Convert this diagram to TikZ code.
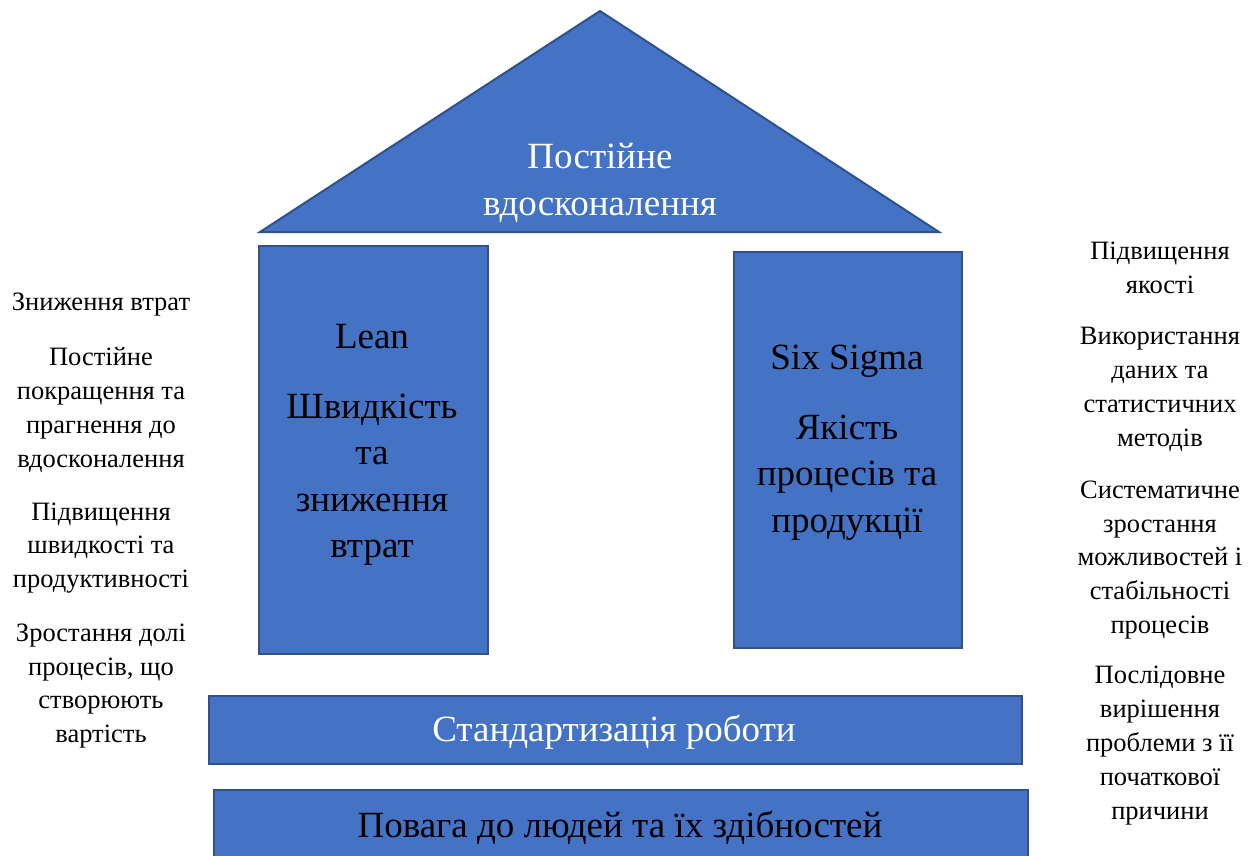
\documentclass[tikz,border=0pt]{standalone}
\usepackage{fontspec}
\setmainfont{Liberation Serif}
\begin{document}
\begin{tikzpicture}[x=1pt,y=-1pt,
  blockfill/.style={fill=houseblue, draw=houseedge, line width=2pt},
  pillar/.style={blockfill, anchor=north west, inner sep=0pt},
  bigtext/.style={align=center, font=\fontsize{37}{46.5}\selectfont},
  sidetext/.style={align=center, font=\fontsize{26.5}{33.8}\selectfont},
]
\definecolor{houseblue}{HTML}{4472C4}
\definecolor{houseedge}{HTML}{2F528F}
\useasboundingbox (0,0) rectangle (1254,856);
\clip (0,0) rectangle (1254,856);

% roof
\draw[blockfill, line join=miter] (600,11) -- (939,232) -- (260,232) -- cycle;
\node[bigtext, text=white] (roof) at (600,183) {Постійне\\вдосконалення};

% pillars
\node[pillar, minimum width=229pt, minimum height=408pt] (lean) at (258,245) {};
\node[pillar, minimum width=228pt, minimum height=396pt] (sigma) at (733,251) {};
\node[bigtext] (leantxt) at (372,445) {Lean\\[23pt]Швидкість\\та\\зниження\\втрат};
\node[bigtext] (sigmatxt) at (847,442.5) {Six Sigma\\[23pt]Якість\\процесів та\\продукції};

% foundation bars
\node[pillar, minimum width=813pt, minimum height=68pt] (std) at (208,695) {};
\node[bigtext, text=white] (stdtxt) at (614,732) {Стандартизація роботи};
\node[pillar, minimum width=814pt, minimum height=90pt] (base) at (213,789) {};
\node[bigtext] (basetxt) at (620,828) {Повага до людей та їх здібностей};

% Lean benefits
\node[sidetext] (l1) at (101,305) {Зниження втрат};
\node[sidetext] (l2) at (101,410) {Постійне\\покращення та\\прагнення до\\вдосконалення};
\node[sidetext] (l3) at (101,548) {Підвищення\\швидкості та\\продуктивності};
\node[sidetext] (l4) at (101,686) {Зростання долі\\процесів, що\\створюють\\вартість};

% Six Sigma benefits
\node[sidetext] (r1) at (1160,268) {Підвищення\\якості};
\node[sidetext] (r2) at (1160,389.5) {Використання\\даних та\\статистичних\\методів};
\node[sidetext] (r3) at (1160,560) {Систематичне\\зростання\\можливостей і\\стабільності\\процесів};
\node[sidetext] (r4) at (1160,745.5) {Послідовне\\вирішення\\проблеми з її\\початкової\\причини};
\end{tikzpicture}
\end{document}
